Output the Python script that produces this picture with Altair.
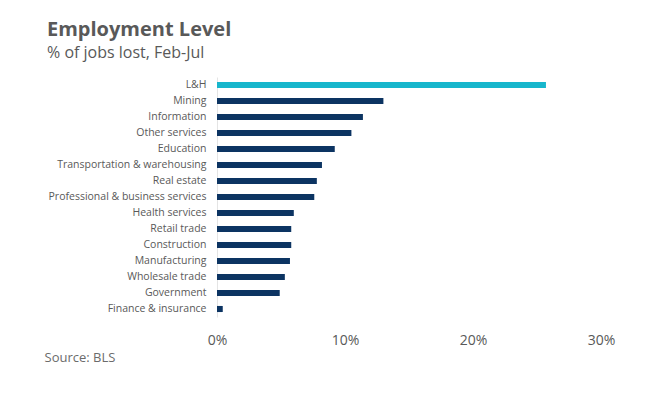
import altair as alt
import pandas as pd

sectors = ["L&H", "Mining", "Information", "Other services", "Education",
           "Transportation & warehousing", "Real estate", "Professional & business services",
           "Health services", "Retail trade", "Construction", "Manufacturing",
           "Wholesale trade", "Government", "Finance & insurance"]
pct_lost = [25.7, 13.0, 11.4, 10.5, 9.2, 8.2, 7.8, 7.6, 6.0, 5.8, 5.8, 5.7, 5.3, 4.9, 0.45]
highlight = ["L&H"]

df = pd.DataFrame({"sector": sectors, "value": [v / 100 for v in pct_lost]})
df["hl"] = df["sector"].isin(highlight).map({True: "yes", False: "no"})

W, H = 384, 240
LEFT = 209

bars = alt.Chart(df).mark_bar(cornerRadius=0).encode(
    y=alt.Y("sector:N", sort=sectors,
            scale=alt.Scale(paddingInner=0.62, paddingOuter=0.31),
            axis=alt.Axis(title=None, ticks=False, domain=True, domainColor="#e4e4e4",
                          domainWidth=1, labelFontSize=10.5, labelColor="#595959",
                          labelFont="Open Sans", labelPadding=11, labelLimit=300)),
    x=alt.X("value:Q", scale=alt.Scale(domain=[0, 0.3], nice=False),
            axis=alt.Axis(title="Source: BLS", format=".0%", values=[0, 0.1, 0.2, 0.3],
                          ticks=False, domain=False, grid=False, labelFontSize=14,
                          labelFlush=False,
                          labelColor="#595959", labelFont="Open Sans", labelPadding=16,
                          titleAnchor="start", titleAlign="left", titleX=-173, titleY=40,
                          titleFontSize=13, titleFontWeight="normal", titleColor="#6b6b6b",
                          titleFont="Open Sans", titleBaseline="middle")),
    color=alt.Color("hl:N", scale=alt.Scale(domain=["yes", "no"], range=["#17b6cc", "#0c3462"]),
                    legend=None),
)

chart = bars.properties(
    width=W, height=H,
    background="white",
    title=alt.TitleParams(text="Employment Level", subtitle="% of jobs lost, Feb-Jul",
                          anchor="start", frame="group", dx=-170, dy=-12,
                          font="Open Sans", fontSize=20, fontWeight="bold", color="#595959",
                          subtitleFont="Open Sans", subtitleFontSize=16, subtitleColor="#595959",
                          subtitlePadding=5),
    autosize=alt.AutoSizeParams(type="none"),
    padding={"left": LEFT, "top": 69, "right": 50, "bottom": 50},
).configure_view(strokeWidth=0, stroke="transparent")

chart.save("out.html", embed_options={"renderer": "svg", "actions": False})
